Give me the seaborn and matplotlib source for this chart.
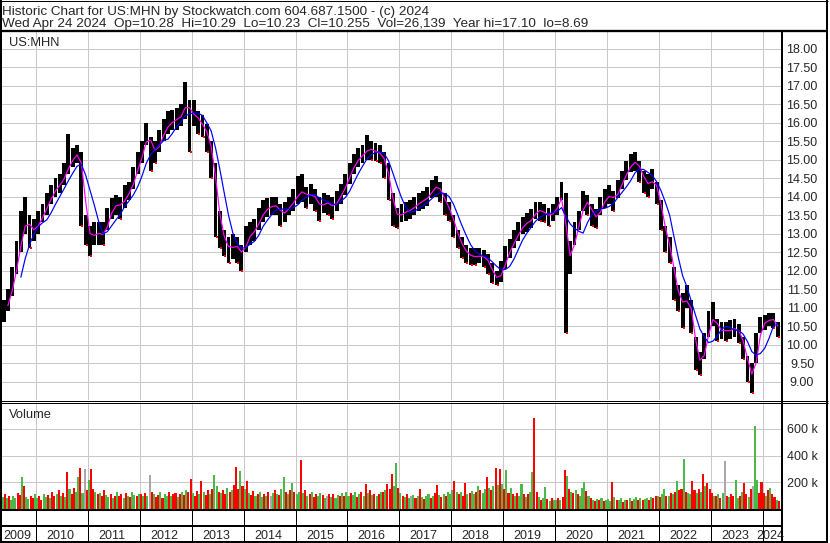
import numpy as np
import pandas as pd
import matplotlib
matplotlib.use("Agg")
import matplotlib.pyplot as plt
import seaborn as sns

# ---- data ----
# monthly bars, May 2009 .. Apr 2024
close = [10.9, 11.2, 11.7, 12.3, 13.0, 13.4, 13.1, 13.1,
         13.3, 13.55, 13.8, 14.05, 14.25, 14.35, 14.6, 14.9, 15.05, 15.2, 14.6, 13.1,
         12.9, 13.0, 13.0, 12.95, 13.4, 13.7, 13.8, 13.75, 14.0, 14.15, 14.5, 14.9,
         15.2, 15.75, 15.3, 15.2, 15.5, 15.8, 15.95, 16.05, 16.1, 16.2, 16.6, 16.2,
         16.25, 16.0, 15.9, 15.6, 15.1, 14.0, 13.1, 12.75, 12.55, 12.7, 12.6, 12.4,
         12.85, 13.0, 13.1, 13.4, 13.6, 13.7, 13.75, 13.75, 13.5, 13.6, 13.75, 13.9,
         14.1, 14.15, 13.98, 14.1, 13.9, 13.7, 13.85, 13.8, 13.7, 13.9, 14.1, 14.35,
         14.65, 14.9, 15.05, 15.15, 15.3, 15.25, 15.2, 15.15, 14.9, 14.35, 13.6, 13.45,
         13.55, 13.6, 13.65, 13.75, 13.85, 13.9, 14.0, 14.2, 14.3, 14.1, 13.8, 13.6,
         13.2, 12.85, 12.6, 12.45, 12.38, 12.37, 12.4, 12.35, 12.2, 11.85, 11.78, 11.95,
         12.35, 12.6, 12.85, 13.05, 13.25, 13.3, 13.4, 13.65, 13.6, 13.55, 13.45, 13.6,
         13.75, 14.15, 12.4, 12.4, 13.0, 13.35, 13.9, 13.8, 13.5, 13.4, 13.75, 13.95,
         14.05, 13.9, 14.2, 14.45, 14.7, 14.9, 14.95, 14.7, 14.4, 14.3, 14.5, 14.1,
         13.5, 12.85, 12.55, 11.6, 11.3, 11.0, 11.35, 10.6, 9.7, 9.45, 9.95, 10.55,
         10.8, 10.35, 10.4, 10.35, 10.4, 10.45, 10.3, 9.9, 9.35, 9.05, 9.95, 10.55,
         10.6, 10.7, 10.65, 10.35]
high = [11.2, 11.5, 12.1, 12.8, 13.6, 14.0, 13.5, 13.4,
        13.6, 13.8, 14.1, 14.3, 14.5, 14.6, 14.9, 15.7, 15.3, 15.4, 15.2, 13.5,
        13.2, 13.3, 13.3, 13.3, 13.7, 13.95, 14.05, 14.0, 14.3, 14.4, 14.8, 15.2,
        15.5, 16.0, 15.6, 15.5, 15.8, 16.1, 16.3, 16.35, 16.4, 16.5, 17.1, 16.6,
        16.6, 16.3, 16.2, 15.95, 15.5, 14.9, 13.6, 13.1, 12.9, 13.0, 12.9, 12.7,
        13.2, 13.3, 13.4, 13.7, 13.9, 13.95, 14.0, 14.0, 13.8, 13.85, 14.0, 14.2,
        14.55, 14.6, 14.25, 14.35, 14.2, 14.0, 14.1, 14.05, 14.0, 14.15, 14.35, 14.6,
        14.9, 15.15, 15.3, 15.4, 15.65, 15.5, 15.45, 15.4, 15.2, 14.9, 14.1, 13.7,
        13.8, 13.85, 13.9, 14.0, 14.1, 14.15, 14.25, 14.45, 14.55, 14.4, 14.1, 13.85,
        13.5, 13.1, 12.9, 12.7, 12.6, 12.6, 12.6, 12.55, 12.45, 12.2, 12.0, 12.25,
        12.65, 12.85, 13.1, 13.3, 13.45, 13.55, 13.65, 13.85, 13.85, 13.8, 13.7, 13.8,
        14.0, 14.4, 14.1, 12.8, 13.3, 13.6, 14.15, 14.05, 13.8, 13.65, 14.0, 14.2,
        14.3, 14.15, 14.45, 14.7, 14.95, 15.15, 15.2, 14.95, 14.7, 14.6, 14.75, 14.4,
        13.9, 13.2, 12.9, 12.1, 11.6, 11.4, 11.6, 11.2, 10.2, 9.8, 10.3, 10.9,
        11.15, 10.7, 10.6, 10.6, 10.65, 10.7, 10.55, 10.2, 9.7, 9.5, 10.3, 10.75,
        10.8, 10.85, 10.85, 10.6]
low = [10.6, 10.9, 11.3, 11.9, 12.5, 13.0, 12.6, 12.8,
       13.0, 13.3, 13.5, 13.8, 14.0, 14.1, 14.3, 14.6, 14.8, 14.9, 13.2, 12.7,
       12.4, 12.7, 12.7, 12.7, 13.1, 13.4, 13.5, 13.4, 13.7, 13.9, 14.2, 14.6,
       14.9, 15.4, 14.7, 14.9, 15.2, 15.5, 15.7, 15.8, 15.8, 15.9, 16.1, 15.2,
       15.9, 15.7, 15.6, 15.2, 14.5, 12.9, 12.6, 12.4, 12.2, 12.3, 12.2, 12.0,
       12.5, 12.7, 12.8, 13.1, 13.3, 13.45, 13.5, 13.5, 13.2, 13.3, 13.5, 13.6,
       13.8, 13.85, 13.7, 13.8, 13.6, 13.35, 13.55, 13.5, 13.4, 13.6, 13.8, 14.05,
       14.35, 14.6, 14.8, 14.9, 15.0, 15.0, 14.95, 14.9, 14.5, 13.9, 13.2, 13.15,
       13.3, 13.35, 13.4, 13.5, 13.6, 13.65, 13.75, 13.95, 14.0, 13.85, 13.5, 13.35,
       12.9, 12.6, 12.35, 12.2, 12.15, 12.15, 12.2, 12.1, 11.9, 11.65, 11.6, 11.7,
       12.05, 12.35, 12.6, 12.8, 13.0, 13.05, 13.15, 13.4, 13.35, 13.3, 13.2, 13.35,
       13.5, 13.9, 10.3, 11.9, 12.7, 13.1, 13.6, 13.5, 13.2, 13.15, 13.5, 13.7,
       13.8, 13.6, 13.95, 14.2, 14.45, 14.65, 14.7, 14.4, 14.1, 14.0, 14.2, 13.8,
       13.1, 12.5, 12.2, 11.2, 10.9, 10.45, 11.0, 10.3, 9.3, 9.17, 9.6, 10.2,
       10.5, 10.1, 10.15, 10.1, 10.15, 10.2, 10.05, 9.6, 9.0, 8.69, 9.5, 10.3,
       10.4, 10.5, 10.45, 10.2]

# half-month volume (thousands), May 2009 .. Apr 2024
volume = [90, 110, 85, 100, 70, 95, 80, 120, 105, 240, 170, 90, 75, 100, 85, 110,
          80, 95, 70, 115, 90, 105, 85, 130, 95, 110, 140, 100, 120, 90, 280, 150, 110, 160, 130, 240, 308, 120, 300, 140,
          220, 300, 150, 130, 110, 120, 95, 140, 105, 90, 115, 80, 100, 130, 95, 110, 85, 120, 100, 90, 125, 105, 95, 115,
          110, 95, 120, 100, 254, 130, 115, 90, 105, 125, 85, 110, 95, 130, 100, 115, 120, 90, 110, 125, 105, 140, 130, 223,
          120, 100, 135, 110, 208, 125, 105, 140, 115, 150, 254, 170, 130, 120, 145, 110, 160, 125, 140, 180, 315, 150, 285, 175,
          150, 213, 120, 105, 135, 95, 110, 125, 90, 115, 100, 130, 95, 120, 140, 110, 105, 150, 238, 130, 115, 140, 195, 125,
          110, 130, 369, 120, 145, 100, 115, 125, 90, 110, 95, 120, 105, 85, 100, 115, 90, 110, 80, 105, 95, 120, 100, 130,
          95, 120, 105, 130, 90, 115, 125, 100, 185, 120, 140, 105, 115, 95, 110, 130, 125, 140, 185, 150, 261, 170, 346, 160,
          120, 100, 90, 110, 80, 95, 105, 85, 100, 146, 90, 75, 95, 110, 85, 100, 120, 177, 105, 90, 115, 100, 130, 110,
          140, 208, 125, 110, 130, 100, 192, 115, 120, 135, 110, 125, 169, 140, 120, 150, 238, 160, 145, 170, 305, 180, 300, 190,
          150, 292, 120, 159, 110, 100, 120, 95, 185, 110, 90, 115, 130, 280, 684, 130, 90, 70, 85, 167, 75, 60, 80, 70,
          65, 80, 70, 90, 292, 246, 150, 130, 120, 140, 110, 95, 160, 200, 138, 100, 80, 70, 60, 75, 65, 80, 60, 70,
          75, 60, 200, 90, 65, 70, 80, 55, 70, 65, 85, 60, 75, 90, 70, 80, 65, 75, 85, 70, 90, 80, 100, 95,
          90, 110, 151, 100, 95, 120, 110, 130, 207, 140, 150, 377, 130, 120, 110, 207, 140, 120, 150, 130, 261, 170, 192, 150,
          120, 100, 95, 110, 85, 120, 359, 100, 90, 110, 95, 220, 80, 100, 130, 192, 110, 90, 150, 170, 620, 215, 120, 200,
          120, 100, 140, 159, 110, 90, 70, 60]
# g = up, r = down, x = unchanged
vol_dir = ("grgrgggrrgrggrrg"
           "grrggrgrrgrgrgrgrrggrgxr"
           "grrgrgrrggrgrgrrgrgrggrg"
           "rgrgxrgrrgrggrgrrgrgrgrr"
           "grrgrgrrgrggrgrrgrgrrrgr"
           "grgrrgrggrgrxgrgrggrgrgr"
           "ggrgrgrgrrggrgxrgrggrgrg"
           "grggrgrgrgrgrgrgrgrrrggr"
           "grgrgxgrgrgrggrgrrgrgrgg"
           "grgrgrrgrggrgrggrgrgrgrg"
           "rgrgrgrggrgrggrrgrggrgrg"
           "grgrrgrgrgrgggrgrgrgrgrg"
           "ggrgrggrgrgrggrgrggrgrrg"
           "rggrgrgrgrrgrggrrgrgrgrr"
           "rgrgrgxrgrrggrgrrgrxggrr"
           "rgrgrrgr")

years = list(range(2009, 2025))
price_ticks = [9.0, 9.5, 10.0, 10.5, 11.0, 11.5, 12.0, 12.5, 13.0, 13.5, 14.0,
               14.5, 15.0, 15.5, 16.0, 16.5, 17.0, 17.5, 18.0]
vol_ticks = [200, 400, 600]
vol_labels = ["200 k", "400 k", "600 k"]
header1 = "Historic Chart for US:MHN by Stockwatch.com 604.687.1500 - (c) 2024"
header2 = ("Wed Apr 24 2024  Op=10.28  Hi=10.29  Lo=10.23  Cl=10.255  "
           "Vol=26,139  Year hi=17.10  lo=8.69")

# ---- frames ----
months = pd.date_range("2009-05-01", periods=len(close), freq="MS")
px = pd.DataFrame({"t": months.year + (months.month - 0.5) / 12,
                   "close": close, "high": high, "low": low})
px["ma_fast"] = px["close"].rolling(2).mean()
px["ma_slow"] = px["close"].rolling(5).mean()
px["down"] = px["close"].diff() < 0

halves = np.arange(len(volume))
vol = pd.DataFrame({"t": 2009 + 4 / 12 + (halves + 0.5) / 24,
                    "vol": volume, "dir": list(vol_dir)})
vol_colors = {"g": "#4cb848", "r": "#ff0000", "x": "#a8a8a8"}

T0 = 2010 - 34 / 51.9
T1 = 2010 + 746 / 51.9
GRID = "#c8c8c8"
PX = 0.72  # one pixel in points

sns.set_style("white")
plt.rcParams["font.family"] = ["Liberation Sans", "DejaVu Sans"]

W, H = 830, 543
fig = plt.figure(figsize=(W / 100, H / 100), dpi=100)


def px_axes(x0, y0, x1, y1):
    return fig.add_axes([x0 / W, 1 - y1 / H, (x1 - x0) / W, (y1 - y0) / H])


# price panel
ax = px_axes(2, 30, 782, 400)
ax.bar(px["t"], px["high"] - px["low"], bottom=px["low"], width=0.9 / 12,
       color="black", lw=0, zorder=2)
dn = px[px["down"]]
ax.scatter(dn["t"] + 0.02, dn["low"], s=3, marker="s", color="red", lw=0, zorder=3)
sns.lineplot(data=px, x="t", y="ma_fast", color="#ff00ff", lw=1.2 * PX, ax=ax, zorder=4)
sns.lineplot(data=px, x="t", y="ma_slow", color="#0000ff", lw=1.2 * PX, ax=ax, zorder=5)
ax.set_xlim(T0, T1)
ax.set_ylim(8.5, 18.5)
ax.set_xticks(years[1:])
ax.set_yticks(price_ticks)
ax.set_yticklabels([f"{v:.2f}" for v in price_ticks])
ax.yaxis.tick_right()
ax.tick_params(axis="x", length=0, labelbottom=False)
ax.tick_params(axis="y", length=0, pad=20 * PX, labelsize=9)
for lbl in ax.get_yticklabels():
    lbl.set_ha("center")
ax.grid(True, color=GRID, lw=PX)
ax.set_axisbelow(True)
ax.set_xlabel("")
ax.set_ylabel("")
for s in ax.spines.values():
    s.set_visible(False)

# volume panel
axv = px_axes(2, 402, 782, 509)
axv.bar(vol["t"], vol["vol"], width=0.95 / 24,
        color=[vol_colors[c] for c in vol["dir"]], lw=0, zorder=2)
axv.set_xlim(T0, T1)
axv.set_ylim(0, 800)
axv.set_xticks(years[1:])
axv.set_yticks(vol_ticks)
axv.set_yticklabels(vol_labels)
axv.yaxis.tick_right()
axv.tick_params(axis="x", length=0, labelbottom=False)
axv.tick_params(axis="y", length=0, pad=20 * PX, labelsize=9)
for lbl in axv.get_yticklabels():
    lbl.set_ha("center")
axv.grid(True, color=GRID, lw=PX)
axv.set_axisbelow(True)
for s in axv.spines.values():
    s.set_visible(False)

# date strip
axd = px_axes(2, 509, 782, 542)
axd.set_xlim(T0, T1)
axd.set_ylim(542, 509)
axd.axis("off")
axd.vlines(years[1:], 509, 542, color="black", lw=PX)
for y in years:
    lo_, hi_ = max(y, T0), min(y + 1, T1)
    axd.text((lo_ + hi_) / 2 - 0.03, 539, str(y), ha="center", va="baseline", fontsize=9)

# frame lines and header, in pixel coordinates
bg = px_axes(0, 0, W, H)
bg.set_xlim(0, W)
bg.set_ylim(H, 0)
bg.axis("off")
bg.hlines(0.5, 0, 828, color="black", lw=PX)
bg.vlines(1, 0, 542, color="black", lw=2 * PX)
bg.vlines(827, 0, 542, color="black", lw=2 * PX)
bg.hlines(31, 0, 828, color="black", lw=2.3 * PX)
bg.vlines(782, 31, 542, color="black", lw=2 * PX)
bg.hlines([400.5, 402.5], 0, 828, color="black", lw=PX)
bg.hlines([509.5, 526], 0, 782, color="black", lw=2 * PX)
bg.hlines(541.5, 0, 828, color="black", lw=2 * PX)
bg.text(2, 14.5, header1, fontsize=9.7, va="baseline")
bg.text(2, 27.5, header2, fontsize=9.7, va="baseline")
bg.text(9, 46.5, "US:MHN", fontsize=9.3, va="baseline")
bg.text(9, 418, "Volume", fontsize=9.3, va="baseline")

fig.savefig("out.png", dpi=100)
